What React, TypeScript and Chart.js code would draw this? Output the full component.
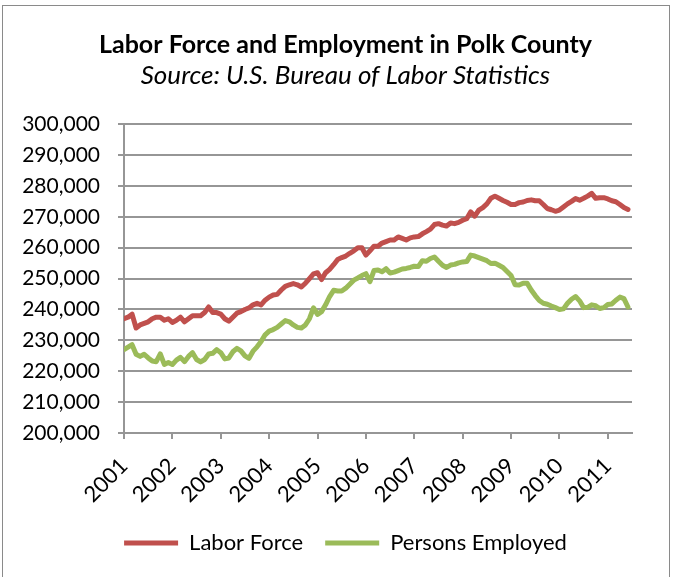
import { useEffect, useRef } from "react";
import { Chart, registerables } from "chart.js";

Chart.register(...registerables);

const START_YEAR = 2001;
const END_YEAR_BOUND = 2011.5;
const YEAR_TICKS = [2001, 2002, 2003, 2004, 2005, 2006, 2007, 2008, 2009, 2010, 2011];
const Y_MIN = 200000;
const Y_MAX = 300000;
const Y_STEP = 10000;

const TITLE = "Labor Force and Employment in Polk County";
const SUBTITLE = "Source: U.S. Bureau of Labor Statistics";
const SERIES_NAMES = ["Labor Force", "Persons Employed"];

// Monthly values, Jan 2001 .. Jun 2011
const LABOR_FORCE = [
  237000, 237500, 238500, 234000, 235000, 235500, 236000, 237000, 237500, 237500, 236500, 237000,
  235800, 236500, 237500, 236000, 237000, 238000, 238000, 238000, 239000, 240800, 239000, 239000,
  238500, 237000, 236200, 237500, 238800, 239300, 240000, 240500, 241500, 242000, 241500, 243000,
  244000, 244700, 244900, 246300, 247500, 248000, 248400, 248000, 247300, 248500, 250000, 251500,
  251900, 249700, 251900, 253000, 254500, 256200, 256800, 257300, 258200, 259000, 260000, 260000,
  257600, 259000, 260500, 260500, 261500, 262000, 262500, 262500, 263500, 263000, 262500, 263200,
  263500, 263600, 264500, 265200, 266000, 267500, 267800, 267300, 267000, 268000, 267800, 268200,
  268900, 269400, 271600, 270200, 272200, 273000, 274200, 276000, 276700, 276000, 275300, 274700,
  274000, 274000, 274600, 274800, 275300, 275500, 275200, 275200, 274000, 272700, 272300, 271800,
  272200, 273200, 274200, 275000, 275900, 275400, 276000, 276700, 277600, 276000, 276200, 276200,
  275800, 275200, 274900, 274000, 273000, 272400,
];

const PERSONS_EMPLOYED = [
  227000, 227800, 228600, 225500, 224800, 225500, 224300, 223300, 223100, 225600, 222200, 222800,
  222200, 223600, 224500, 223100, 224800, 226000, 223800, 223000, 223800, 225600, 225800, 227000,
  226000, 224000, 224300, 226300, 227400, 226600, 225000, 224200, 226500, 227900, 229600, 231800,
  233000, 233500, 234200, 235300, 236400, 236000, 235000, 234200, 234000, 235000, 237000, 240500,
  238400, 239300, 241500, 244200, 246200, 246000, 246000, 246900, 248200, 249500, 250200, 251000,
  251600, 249000, 252600, 252800, 252200, 253200, 251800, 252100, 252600, 253100, 253300, 253600,
  254000, 253900, 255800, 255600, 256500, 257000, 255600, 254300, 253600, 254400, 254600, 255100,
  255400, 255500, 257600, 257300, 256800, 256300, 255800, 254900, 255000, 254300, 253600, 252300,
  251000, 248000, 247900, 248500, 248500, 246300, 244500, 242900, 242000, 241700, 241100, 240600,
  240000, 240200, 242000, 243300, 244200, 242800, 240600, 240700, 241500, 241200, 240300, 240600,
  241600, 241800, 243000, 244000, 243500, 240800,
];

const RED = "#C0504D";
const GREEN = "#9BBB59";
const GRID = "#969696";
const FONT = "Lato";

const toPoints = (arr: number[]) =>
  arr.map((v, i) => ({ x: START_YEAR + i / 12, y: v }));

export default function App() {
  const ref = useRef<HTMLCanvasElement>(null);

  useEffect(() => {
    const chart = new Chart(ref.current!, {
      type: "line",
      data: {
        datasets: [
          {
            label: SERIES_NAMES[0],
            data: toPoints(LABOR_FORCE),
            borderColor: RED,
            backgroundColor: RED,
            borderWidth: 5,
            pointRadius: 0,
            tension: 0,
            borderJoinStyle: "round",
            borderCapStyle: "round",
          },
          {
            label: SERIES_NAMES[1],
            data: toPoints(PERSONS_EMPLOYED),
            borderColor: GREEN,
            backgroundColor: GREEN,
            borderWidth: 5,
            pointRadius: 0,
            tension: 0,
            borderJoinStyle: "round",
            borderCapStyle: "round",
          },
        ],
      },
      options: {
        responsive: false,
        animation: false,
        devicePixelRatio: 1,
        layout: { padding: { left: 16, right: 0, top: 0, bottom: 13 } },
        plugins: {
          title: {
            display: true,
            text: TITLE,
            color: "#000",
            font: { family: FONT, size: 25, weight: "bold" },
            padding: { top: 30, bottom: 0 },
          },
          subtitle: {
            display: true,
            text: SUBTITLE,
            color: "#000",
            font: { family: FONT, size: 26, style: "italic" },
            padding: { top: 0, bottom: 33 },
          },
          legend: {
            position: "bottom",
            labels: {
              color: "#000",
              font: { family: FONT, size: 22 },
              boxWidth: 54,
              boxHeight: 5,
              padding: 22,
              generateLabels: (c: any) =>
                Chart.defaults.plugins.legend.labels
                  .generateLabels(c)
                  .map((l: any) => ({ ...l, lineWidth: 0, fillStyle: l.strokeStyle })),
            },
          },
          tooltip: { enabled: false },
        },
        scales: {
          x: {
            type: "linear",
            min: START_YEAR,
            max: END_YEAR_BOUND,
            afterBuildTicks: (s: any) => {
              s.ticks = YEAR_TICKS.map((v) => ({ value: v }));
            },
            afterFit: (s: any) => {
              s.height = 77;
            },
            ticks: {
              autoSkip: false,
              minRotation: 45,
              maxRotation: 45,
              padding: 14,
              color: "#000",
              font: { family: FONT, size: 22 },
              callback: (v: any) => String(v),
            },
            grid: {
              display: true,
              drawOnChartArea: false,
              drawTicks: true,
              tickLength: 6,
              color: GRID,
              lineWidth: 2,
            },
            border: { display: true, color: GRID, width: 2 },
          },
          y: {
            min: Y_MIN,
            max: Y_MAX,
            afterFit: (s: any) => {
              s.width = 108;
            },
            ticks: {
              stepSize: Y_STEP,
              padding: 18,
              color: "#000",
              font: { family: FONT, size: 21 },
              callback: (v: any) => Number(v).toLocaleString("en-US"),
            },
            grid: {
              color: GRID,
              lineWidth: 2,
              tickLength: 6,
            },
            border: { display: true, color: GRID, width: 2 },
          },
          spacer: {
            type: "linear",
            position: "right",
            display: true,
            afterFit: (s: any) => {
              s.width = 43;
            },
            ticks: { display: false },
            grid: { display: false, drawTicks: false },
            border: { display: false },
          },
        },
      },
    });
    return () => chart.destroy();
  }, []);

  return (
    <div
      style={{
        position: "fixed",
        left: 0,
        top: 0,
        width: 675,
        height: 577,
        background: "#fff",
        overflow: "hidden",
      }}
    >
      <div
        style={{
          position: "absolute",
          left: 2,
          top: 5,
          width: 666,
          height: 700,
          border: "1px solid #8a8a8a",
        }}
      />
      <canvas
        ref={ref}
        width={675}
        height={577}
        style={{ position: "absolute", left: 0, top: 0 }}
      />
    </div>
  );
}
